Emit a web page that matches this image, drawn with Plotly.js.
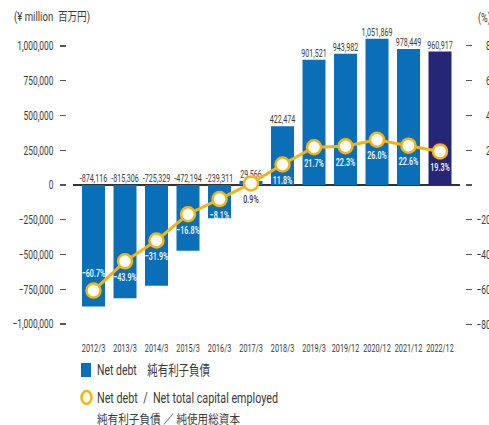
<!DOCTYPE html>
<html>
<head>
<meta charset="utf-8">
<script src="https://cdn.plot.ly/plotly-3.0.1.min.js"></script>
<style>html,body{margin:0;padding:0;background:#fff;}#chart{width:489px;height:425px;}</style>
</head>
<body>
<div id="chart"></div>
<script>
const categories = ['2012/3','2013/3','2014/3','2015/3','2016/3','2017/3','2018/3','2019/3','2019/12','2020/12','2021/12','2022/12'];
const netDebt = [-874116,-815306,-725329,-472194,-239311,29566,422474,901521,943982,1051869,978449,960917];
const ratio = [-60.7,-43.9,-31.9,-16.8,-8.1,0.9,11.8,21.7,22.3,26.0,22.6,19.3];
const leftTicks = [-1000000,-750000,-500000,-250000,0,250000,500000,750000,1000000];
const rightTicks = [-80,-60,-40,-20,0,20,40,60,80];

const FONT = 'Roboto, "Noto Sans CJK JP", sans-serif';
const W = 489, H = 425;
const BLUE = '#0b6fb8', NAVY = '#262676', GOLD = '#f5b414', TXT = '#3a3a3a';

const barColors = netDebt.map((v,i)=> i === netDebt.length-1 ? NAVY : BLUE);
const rightText = rightTicks.map(v => v < 0 ? '\u2212' + Math.abs(v) : (v === 0 ? '\u2007\u2007\u20070' : '\u2007\u2007' + v));

const bars = {
  type:'bar', x:categories, y:netDebt, marker:{color:barColors}, xaxis:'x', yaxis:'y',
  hoverinfo:'skip', showlegend:false
};
const barLabels = {
  type:'scatter', mode:'text', x:categories, y:netDebt.map(v=>Math.max(v,0)),
  text:netDebt.map(v=>v.toLocaleString('en-US')), textposition:'top center',
  textfont:{family:FONT, size:11.5, color:TXT}, cliponaxis:false, xaxis:'x', yaxis:'y',
  hoverinfo:'skip', showlegend:false
};
const line = {
  type:'scatter', mode:'lines+markers', x:categories, y:ratio, xaxis:'x', yaxis:'y2',
  line:{color:GOLD, width:3}, marker:{size:14, color:'#ffffff', line:{color:GOLD, width:2.5}},
  cliponaxis:false, hoverinfo:'skip', showlegend:false
};
const pctLabels = {
  type:'scatter', mode:'markers+text', x:categories, y:ratio, xaxis:'x', yaxis:'y2',
  marker:{size:16, opacity:0},
  text:ratio.map(v=>(v<0?'\u2212':'')+Math.abs(v).toFixed(1)+'%'),
  textposition:ratio.map((v,i)=> i===0 ? 'top center' : 'bottom center'),
  textfont:{family:FONT, size:11.5, weight:500, color:ratio.map((v,i)=> i===5 ? TXT : '#ffffff')},
  cliponaxis:false, hoverinfo:'skip', showlegend:false
};

const yDom = [(H-340)/H, (H-30)/H];
const ann = (x, y, text, size) => ({xref:'paper', yref:'paper', x:x/W, y:1-y/H, xanchor:'left', yanchor:'middle',
  align:'left', showarrow:false, text:text, font:{family:FONT, size:size, color:TXT}});
const layout = {
  width:W, height:H, margin:{l:0,r:0,t:0,b:0}, paper_bgcolor:'#fff', plot_bgcolor:'#fff',
  showlegend:false, bargap:0.27,
  font:{family:FONT, color:TXT},
  xaxis:{domain:[73/W, 460/W], range:[-0.651, 11.635], type:'category', showline:false, showgrid:false,
         zeroline:false, ticks:'', tickangle:0, tickfont:{family:FONT, size:11, color:TXT}, anchor:'y', automargin:false},
  yaxis:{domain:yDom, range:[-1115108, 1115108], anchor:'free', position:66/W,
         tickvals:leftTicks, tickformat:',d', ticks:'outside', ticklen:6, tickwidth:1.3, tickcolor:'#555',
         ticklabelstandoff:4, tickfont:{family:FONT, size:12.5, color:TXT},
         showgrid:false, showline:false, zeroline:true, zerolinecolor:'#333', zerolinewidth:1.5, automargin:false},
  yaxis2:{domain:yDom, range:[-89.1, 89.1], overlaying:'y', side:'right', anchor:'free', position:465/W,
          tickvals:rightTicks, ticktext:rightText, ticks:'outside', ticklen:6, tickwidth:1.3, tickcolor:'#555',
          ticklabelstandoff:2, tickfont:{family:FONT, size:12.5, color:TXT},
          showgrid:false, showline:false, zeroline:false, automargin:false},
  annotations:[
    ann(12, 17, '(¥ million  百万円)', 12),
    ann(476, 17, '(%)', 12.5),
    ann(95, 370, 'Net debt　純有利子負債', 14),
    ann(95, 398, 'Net debt  /  Net total capital employed', 14),
    ann(95, 419, '純有利子負債 ／ 純使用総資本', 12.5)
  ],
  shapes:[
    {type:'rect', xref:'paper', yref:'paper', x0:81/W, x1:91/W, y0:1-377/H, y1:1-363/H,
     fillcolor:BLUE, line:{width:0}},
    {type:'circle', xref:'paper', yref:'paper', x0:81.5/W, x1:91.5/W, y0:1-404/H, y1:1-391/H,
     fillcolor:'#fff', line:{color:GOLD, width:2.5}}
  ]
};

function squeeze(el, factor, target) {
  const L = el.getComputedTextLength();
  if (!L) return;
  const len = target ? target : L * factor;
  el.setAttribute('textLength', len.toFixed(2));
  el.setAttribute('lengthAdjust', 'spacingAndGlyphs');
}

Plotly.newPlot('chart', [bars, barLabels, line, pctLabels], layout, {displayModeBar:false, staticPlot:true}).then(gd => {
  gd.querySelectorAll('.xtick text').forEach(t => squeeze(t, 0.66));
  gd.querySelectorAll('.ytick text').forEach(t => squeeze(t, 0.67));
  gd.querySelectorAll('.y2tick text').forEach(t => squeeze(t, 0.67));
  gd.querySelectorAll('.textpoint text').forEach(t => squeeze(t, 0.62));
  const targets = [76, null, 113, 181, 143];
  gd.querySelectorAll('.annotation-text').forEach((t, i) => squeeze(t, 0.72, targets[i]));
});
</script>
</body>
</html>
